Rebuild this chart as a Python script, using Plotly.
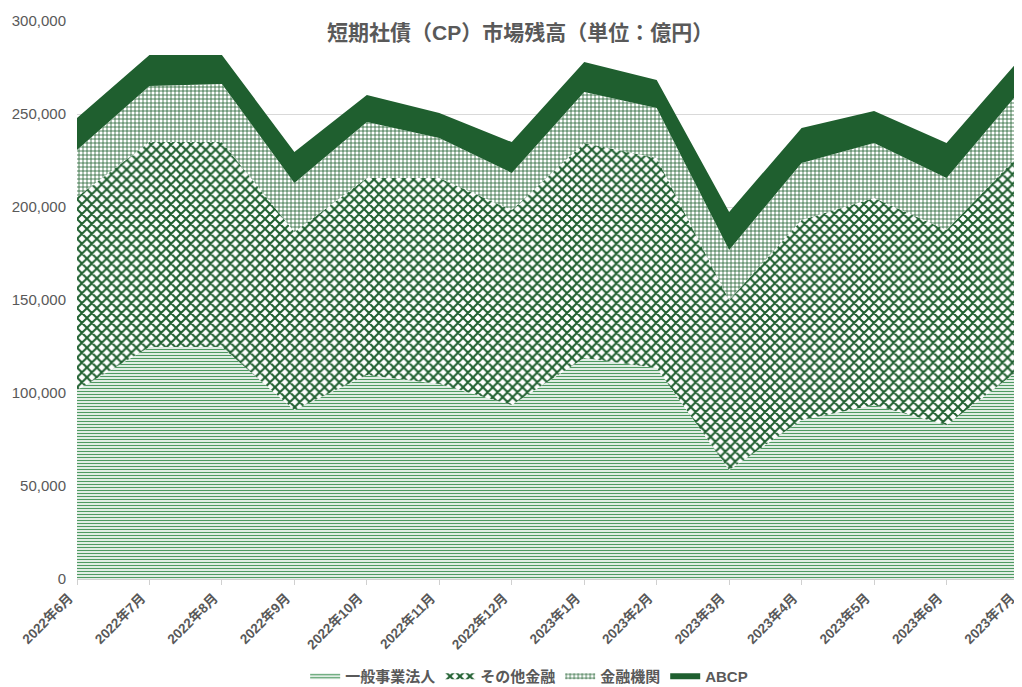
import plotly.graph_objects as go

months = ["2022年6月", "2022年7月", "2022年8月", "2022年9月", "2022年10月", "2022年11月",
          "2022年12月", "2023年1月", "2023年2月", "2023年3月", "2023年4月", "2023年5月",
          "2023年6月", "2023年7月"]

ippan = [101600, 124700, 124700, 90900, 109700, 104800, 93500, 118800, 113400, 58600, 85500, 93500, 82800, 112400]
sonota = [103800, 110200, 110200, 95700, 105900, 110800, 104900, 115600, 112900, 91400, 107500, 111300, 104800, 115600]
kinyu = [25200, 30200, 31200, 26300, 30100, 21500, 19900, 27400, 26900, 26900, 30700, 29600, 28000, 33800]
abcp = [17200, 16600, 15600, 16700, 14500, 13400, 16600, 16200, 15100, 20400, 18800, 17200, 18800, 17200]

yticks = [0, 50000, 100000, 150000, 200000, 250000, 300000]

DARK = "#1f5f2f"
FONT = "Liberation Sans, Noto Sans CJK JP, sans-serif"

fig = go.Figure()
fig.add_trace(go.Scatter(
    x=months, y=ippan, name="一般事業法人", stackgroup="one", mode="none",
    fillcolor="white",
    fillpattern=dict(shape="-", fgcolor="#4f9a62", fgopacity=1, bgcolor="white",
                     size=3, solidity=0.45)))
fig.add_trace(go.Scatter(
    x=months, y=sonota, name="その他金融", stackgroup="one", mode="none",
    fillcolor="white",
    fillpattern=dict(shape="x", fgcolor=DARK, fgopacity=1, bgcolor="white",
                     size=7, solidity=0.5)))
fig.add_trace(go.Scatter(
    x=months, y=kinyu, name="金融機関", stackgroup="one", mode="none",
    fillcolor="white",
    fillpattern=dict(shape="+", fgcolor=DARK, fgopacity=1, bgcolor="white",
                     size=4, solidity=0.35)))
fig.add_trace(go.Scatter(
    x=months, y=abcp, name="ABCP", stackgroup="one", mode="none",
    fillcolor=DARK))

fig.add_annotation(
    text="<b>短期社債（CP）市場残高（単位：億円）</b>", xref="paper", yref="paper",
    x=0.47, y=0.9785, xanchor="center", yanchor="middle", showarrow=False,
    font=dict(family=FONT, size=21, color="#595959"))

# page body has an 8px default margin; size/margins compensate so the plot area
# lands at x 77..1019, y 21..579 of the window
fig.update_layout(
    width=1014, height=685,
    margin=dict(l=69, r=3, t=13, b=114),
    paper_bgcolor="white", plot_bgcolor="white",
    font=dict(family=FONT, color="#595959"),
    showlegend=True,
    legend=dict(orientation="h", x=0.48, xanchor="center",
                yref="container", y=0.0, yanchor="bottom",
                font=dict(family=FONT, size=15, color="#595959", weight="bold"),
                traceorder="normal", itemwidth=30),
)
fig.update_xaxes(
    type="category", range=[0, 13], tickangle=-45, automargin=False,
    showline=True, linecolor="#d0d0d0", linewidth=1,
    ticks="outside", ticklen=5, tickcolor="#d0d0d0", ticklabelshift=-8,
    showgrid=False, tickfont=dict(family=FONT, size=13.5, color="#595959", weight="bold"))
fig.update_yaxes(
    range=[0, 300000], tickvals=yticks, tickformat=",d", automargin=False,
    showgrid=True, gridcolor="#d9d9d9", gridwidth=1, zeroline=False,
    showline=False, ticks="", ticklabelstandoff=10,
    tickfont=dict(family=FONT, size=15, color="#595959"))

fig.write_html("out.html")
